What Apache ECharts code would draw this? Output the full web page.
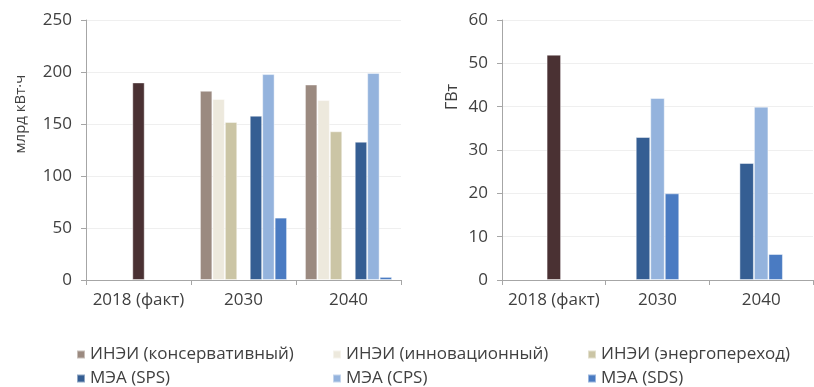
<!DOCTYPE html>
<html>
<head>
<meta charset="utf-8">
<style>
  html, body { margin: 0; padding: 0; background: #ffffff; }
  #chart { width: 814px; height: 387px; }
</style>
<script src="https://cdn.jsdelivr.net/npm/echarts@6/dist/echarts.min.js"></script>
</head>
<body>
<div id="chart"></div>
<script>
// Categories shared by both panels
const categories = ['2018 (факт)', '2030', '2040'];

// Left panel: electricity generation, млрд кВт·ч
const genFact = [190, null, null];
const genInei_cons = [null, 182, 188];
const genInei_innov = [null, 174, 173];
const genInei_trans = [null, 152, 143];
const genIea_sps = [null, 158, 133];
const genIea_cps = [null, 198, 199];
const genIea_sds = [null, 60, 3];

// Right panel: installed capacity, ГВт
const capFact = [52, null, null];
const capIea_sps = [null, 33, 27];
const capIea_cps = [null, 42, 40];
const capIea_sds = [null, 20, 6];

const leftTicks = { min: 0, max: 250, interval: 50 };
const rightTicks = { min: 0, max: 60, interval: 10 };

const names = {
  cons: 'ИНЭИ (консервативный)',
  innov: 'ИНЭИ (инновационный)',
  trans: 'ИНЭИ (энергопереход)',
  fact: '2018 (факт)',
  sps: 'МЭА (SPS)',
  cps: 'МЭА (CPS)',
  sds: 'МЭА (SDS)'
};

const colors = {
  cons: '#9b8a80',
  innov: '#ede9dd',
  trans: '#cbc5a5',
  fact: '#4a3133',
  sps: '#355e93',
  cps: '#94b3dd',
  sds: '#4a7bc2'
};

const FONT = '"Open Sans", "DejaVu Sans", sans-serif';
const TEXT = '#404040';
const AXIS = '#a6a6a6';

function bar(key, data, axis, extra) {
  return Object.assign({
    type: 'bar',
    name: names[key],
    data: data,
    xAxisIndex: axis,
    yAxisIndex: axis,
    barGap: '0%',
    barCategoryGap: axis === 0 ? '17%' : '58%',
    itemStyle: { color: colors[key], borderColor: 'rgba(255,255,255,0.45)', borderWidth: 1 },
    emphasis: { disabled: true },
    animation: false
  }, extra || {});
}

function catAxis(grid) {
  return {
    type: 'category',
    gridIndex: grid,
    data: categories,
    axisLine: { lineStyle: { color: AXIS, width: 1 } },
    axisTick: { show: true, length: 5, lineStyle: { color: AXIS } },
    axisLabel: { interval: 0, color: TEXT, fontFamily: FONT, fontSize: 17, margin: 12 }
  };
}

function valAxis(grid, t) {
  return {
    type: 'value',
    gridIndex: grid,
    min: t.min, max: t.max, interval: t.interval,
    axisLine: { show: true, lineStyle: { color: AXIS, width: 1 } },
    axisTick: { show: true, length: 5, lineStyle: { color: AXIS } },
    splitLine: { lineStyle: { color: '#efefef', width: 1 } },
    axisLabel: { color: TEXT, fontFamily: FONT, fontSize: 17, margin: 14 }
  };
}

function legendColumn(left, items) {
  return {
    orient: 'vertical',
    left: left,
    top: 346,
    padding: 0,
    itemWidth: 8,
    itemHeight: 8,
    itemGap: 7,
    icon: 'rect',
    selectedMode: false,
    data: items,
    textStyle: { color: TEXT, fontFamily: FONT, fontSize: 17, lineHeight: 17 }
  };
}

const chart = echarts.init(document.getElementById('chart'), null, { renderer: 'canvas' });

chart.setOption({
  backgroundColor: '#ffffff',
  animation: false,
  grid: [
    { left: 86, right: 413, top: 20, bottom: 107 },
    { left: 502, right: 1, top: 20, bottom: 107 }
  ],
  xAxis: [catAxis(0), catAxis(1)],
  yAxis: [valAxis(0, leftTicks), valAxis(1, rightTicks)],
  legend: [
    legendColumn(76, [names.cons, names.sps]),
    legendColumn(332, [names.innov, names.cps]),
    legendColumn(587, [names.trans, names.sds])
  ],
  graphic: [
    {
      type: 'text', x: 21, y: 114, rotation: Math.PI / 2,
      style: { text: 'млрд кВт·ч', fill: TEXT, font: '15px ' + FONT, align: 'center', verticalAlign: 'middle' }
    },
    {
      type: 'text', x: 452, y: 97, rotation: Math.PI / 2,
      style: { text: 'ГВт', fill: TEXT, font: '16px ' + FONT, align: 'center', verticalAlign: 'middle' }
    }
  ],
  series: [
    bar('cons', genInei_cons, 0),
    bar('innov', genInei_innov, 0),
    bar('trans', genInei_trans, 0),
    bar('fact', genFact, 0),
    bar('sps', genIea_sps, 0),
    bar('cps', genIea_cps, 0),
    bar('sds', genIea_sds, 0),

    bar('sps', capIea_sps, 1),
    bar('fact', capFact, 1, { stack: 'middle' }),
    bar('cps', capIea_cps, 1, { stack: 'middle' }),
    bar('sds', capIea_sds, 1)
  ]
});
</script>
</body>
</html>
